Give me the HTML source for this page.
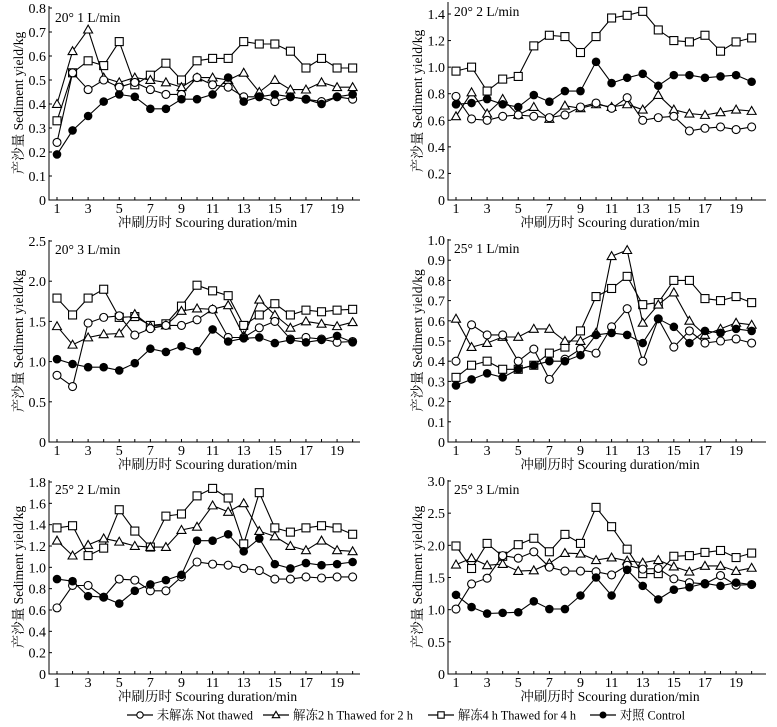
<!DOCTYPE html>
<html><head><meta charset="utf-8">
<style>
html,body{margin:0;padding:0;background:#fff;}
svg{display:block;font-family:"Liberation Serif","Noto Serif CJK SC",serif;}
</style></head>
<body>
<svg id="chart" width="777" height="727" viewBox="0 0 777 727" xmlns="http://www.w3.org/2000/svg"></svg>
<script>
const xCategories = [1,2,3,4,5,6,7,8,9,10,11,12,13,14,15,16,17,18,19,20];
const xTickLabels = [1,3,5,7,9,11,13,15,17,19];
const seriesNames = ["未解冻 Not thawed","解冻2 h Thawed for 2 h","解冻4 h Thawed for 4 h","对照 Control"];
const panelTitles = ["20° 1 L/min","20°  2 L/min","20°  3 L/min","25°  1 L/min","25°  2 L/min","25°  3 L/min"];
const yTickMax = [0.8,1.4,2.5,1.0,1.8,3.0];
const yTickStep = [0.1,0.2,0.5,0.1,0.2,0.5];
// panel 1: 20° 1 L/min
const p1NotThawed = [0.24,0.53,0.46,0.50,0.47,0.49,0.46,0.44,0.44,0.51,0.48,0.47,0.43,0.43,0.41,0.43,0.42,0.41,0.43,0.42];
const p1Thawed2h = [0.40,0.62,0.71,0.51,0.49,0.51,0.50,0.49,0.47,0.51,0.51,0.50,0.53,0.45,0.50,0.46,0.46,0.49,0.47,0.47];
const p1Thawed4h = [0.33,0.53,0.58,0.56,0.66,0.48,0.52,0.57,0.50,0.58,0.59,0.59,0.66,0.65,0.65,0.62,0.55,0.59,0.55,0.55];
const p1Control = [0.19,0.29,0.35,0.41,0.44,0.43,0.38,0.38,0.42,0.42,0.44,0.51,0.41,0.43,0.44,0.43,0.42,0.40,0.43,0.44];
// panel 2: 20° 2 L/min
const p2NotThawed = [0.78,0.61,0.60,0.63,0.64,0.63,0.62,0.64,0.70,0.73,0.69,0.77,0.60,0.62,0.63,0.52,0.54,0.55,0.53,0.55];
const p2Thawed2h = [0.63,0.81,0.65,0.76,0.64,0.70,0.61,0.71,0.69,0.72,0.70,0.72,0.68,0.79,0.68,0.65,0.64,0.66,0.68,0.67];
const p2Thawed4h = [0.97,1.00,0.82,0.91,0.93,1.16,1.24,1.23,1.11,1.23,1.37,1.39,1.42,1.28,1.20,1.19,1.24,1.12,1.19,1.22];
const p2Control = [0.72,0.73,0.76,0.72,0.70,0.79,0.74,0.82,0.82,1.04,0.88,0.92,0.95,0.86,0.94,0.94,0.92,0.93,0.94,0.89];
// panel 3: 20° 3 L/min
const p3NotThawed = [0.83,0.69,1.48,1.55,1.57,1.33,1.41,1.45,1.45,1.52,1.65,1.30,1.30,1.42,1.50,1.28,1.30,1.28,1.24,1.25];
const p3Thawed2h = [1.44,1.21,1.30,1.34,1.35,1.59,1.44,1.45,1.63,1.66,1.65,1.70,1.32,1.77,1.58,1.42,1.50,1.47,1.44,1.49];
const p3Thawed4h = [1.79,1.58,1.79,1.90,1.55,1.56,1.45,1.47,1.69,1.95,1.88,1.82,1.45,1.58,1.72,1.58,1.64,1.62,1.64,1.65];
const p3Control = [1.03,0.97,0.93,0.93,0.89,0.98,1.16,1.12,1.19,1.13,1.40,1.25,1.29,1.30,1.23,1.27,1.24,1.27,1.32,1.24];
// panel 4: 25° 1 L/min
const p4NotThawed = [0.40,0.58,0.53,0.53,0.40,0.46,0.31,0.41,0.46,0.44,0.57,0.66,0.40,0.61,0.47,0.55,0.49,0.50,0.51,0.49];
const p4Thawed2h = [0.61,0.47,0.49,0.52,0.52,0.56,0.56,0.50,0.50,0.54,0.92,0.95,0.59,0.68,0.74,0.60,0.53,0.56,0.59,0.58];
const p4Thawed4h = [0.32,0.38,0.40,0.36,0.36,0.38,0.44,0.47,0.55,0.72,0.76,0.82,0.68,0.69,0.80,0.80,0.71,0.70,0.72,0.69];
const p4Control = [0.28,0.31,0.34,0.32,0.36,0.38,0.40,0.40,0.43,0.53,0.54,0.53,0.49,0.61,0.57,0.49,0.55,0.54,0.56,0.55];
// panel 5: 25° 2 L/min
const p5NotThawed = [0.62,0.83,0.83,0.72,0.89,0.88,0.78,0.78,0.91,1.05,1.03,1.02,0.99,0.97,0.89,0.89,0.91,0.90,0.91,0.91];
const p5Thawed2h = [1.25,1.11,1.21,1.27,1.24,1.20,1.19,1.19,1.35,1.38,1.58,1.52,1.60,1.34,1.29,1.20,1.16,1.25,1.16,1.15];
const p5Thawed4h = [1.37,1.39,1.11,1.18,1.54,1.34,1.19,1.48,1.50,1.67,1.74,1.65,1.22,1.70,1.37,1.33,1.37,1.39,1.37,1.31];
const p5Control = [0.89,0.87,0.73,0.72,0.66,0.78,0.84,0.88,0.93,1.25,1.25,1.31,1.15,1.27,1.03,0.99,1.04,1.02,1.03,1.05];
// panel 6: 25° 3 L/min
const p6NotThawed = [1.01,1.40,1.49,1.84,1.80,1.90,1.66,1.60,1.60,1.59,1.54,1.69,1.63,1.64,1.48,1.42,1.40,1.53,1.38,1.39];
const p6Thawed2h = [1.70,1.80,1.69,1.71,1.60,1.61,1.72,1.88,1.87,1.77,1.81,1.76,1.73,1.77,1.67,1.59,1.68,1.68,1.60,1.65];
const p6Thawed4h = [1.99,1.64,2.03,1.83,2.01,2.11,1.90,2.17,2.03,2.59,2.29,1.94,1.56,1.56,1.83,1.84,1.89,1.92,1.81,1.88];
const p6Control = [1.23,1.04,0.94,0.95,0.96,1.13,1.01,1.01,1.22,1.50,1.22,1.62,1.37,1.16,1.31,1.35,1.41,1.37,1.42,1.39];

const panelSeries = [
  [p1NotThawed,p1Thawed2h,p1Thawed4h,p1Control],
  [p2NotThawed,p2Thawed2h,p2Thawed4h,p2Control],
  [p3NotThawed,p3Thawed2h,p3Thawed4h,p3Control],
  [p4NotThawed,p4Thawed2h,p4Thawed4h,p4Control],
  [p5NotThawed,p5Thawed2h,p5Thawed4h,p5Control],
  [p6NotThawed,p6Thawed2h,p6Thawed4h,p6Control]
];
const layout = [
  {ax:49, x1:57, y0:200, yTop:8, axisTop:6, right:360, titleX:18},
  {ax:448,x1:456,y0:200, yTop:14, axisTop:2, right:766, titleX:417},
  {ax:49, x1:57, y0:442, yTop:241, axisTop:240, right:360, titleX:18},
  {ax:448,x1:456,y0:442, yTop:240, axisTop:239, right:766, titleX:417},
  {ax:49, x1:57, y0:674, yTop:482, axisTop:480, right:360, titleX:18},
  {ax:448,x1:456,y0:674, yTop:481, axisTop:480, right:766, titleX:417}
];
const XSTEP = 15.56;
const NS = "http://www.w3.org/2000/svg";
const svg = document.getElementById("chart");
function mk(tag, attrs, parent){
  const e = document.createElementNS(NS, tag);
  for (const k in attrs) e.setAttribute(k, String(attrs[k]));
  (parent||svg).appendChild(e);
  return e;
}
function marker(g, kind, x, y, r){
  let m;
  if (kind===0){ m = mk("circle",{cx:x,cy:y,r:r,fill:"#fff",stroke:"#000","stroke-width":1.1},g); }
  else if (kind===1){ m = mk("polygon",{points:`${x},${y-r-0.5} ${x-r-0.5},${y+r*0.85} ${x+r+0.5},${y+r*0.85}`,fill:"#fff",stroke:"#000","stroke-width":1.1},g); }
  else if (kind===2){ m = mk("rect",{x:x-r,y:y-r,width:2*r,height:2*r,fill:"#fff",stroke:"#000","stroke-width":1.1},g); }
  else { m = mk("circle",{cx:x,cy:y,r:r+0.3,fill:"#000"},g); }
  return m;
}
const seriesKeys = ["not-thawed","thawed-2h","thawed-4h","control"];
for (let p=0;p<6;p++){
  const L = layout[p];
  const vmax = yTickMax[p];
  const step = yTickStep[p];
  const xScale = c => L.x1 + (c-1)*XSTEP;
  const yScale = v => L.y0 - v*(L.y0-L.yTop)/vmax;
  const g = mk("g",{});
  
  
  const axes = mk("path",{d:`M${L.ax},${L.axisTop} V${L.y0} H${L.right}`,fill:"none",stroke:"#000","stroke-width":1},g);
  
  
  const nT = Math.round(vmax/step);
  for (let i=0;i<=nT;i++){
    const val = i*step;
    const ty = yScale(val);
    mk("line",{x1:L.ax,y1:ty,x2:L.ax+3,y2:ty,stroke:"#000","stroke-width":1},g);
    const txt = i===0 ? "0" : val.toFixed(1);
    const lab = mk("text",{x:L.ax-3,y:ty+5,"text-anchor":"end","font-size":14},g);
    
    
    lab.textContent = txt;
  }
  xCategories.forEach(c=>{
    const x = xScale(c);
    mk("line",{x1:x,y1:L.y0,x2:x,y2:L.y0-3,stroke:"#000","stroke-width":1},g);
  });
  xTickLabels.forEach(c=>{
    const t = mk("text",{x:xScale(c),y:L.y0+13,"text-anchor":"middle","font-size":14},g);
    
    
    t.textContent = c;
  });
  const xt = mk("text",{x:(L.ax+L.right)/2+3,y:L.y0+27,"text-anchor":"middle","font-size":13.5},g);
  
  
  xt.textContent = "冲刷历时 Scouring duration/min";
  const cy = (L.axisTop+L.y0)/2;
  const yt = mk("text",{x:L.titleX,y:cy+5,"text-anchor":"middle","font-size":13.5,transform:`rotate(-90 ${L.titleX} ${cy})`},g);
  
  
  yt.textContent = "产沙量 Sediment yield/kg";
  const pt = mk("text",{x:L.ax+6,y:L.axisTop+14 + (p===0?2:0),"font-size":13.5},g);
  
  
  pt.textContent = panelTitles[p];
  [2,1,0,3].forEach(s=>{
    const vals = panelSeries[p][s];
    const sg = mk("g",{},g);
    
    
    const d = vals.map((v,i)=>(i?"L":"M")+xScale(xCategories[i]).toFixed(1)+","+yScale(v).toFixed(1)).join(" ");
    const ln = mk("path",{d:d,fill:"none",stroke:"#000","stroke-width":1.1},sg);
    
    
    vals.forEach((v,i)=>{
      const m = marker(sg, s, xScale(xCategories[i]), yScale(v), 4);
      
      
    });
  });
}
const legendX = [127,263,428,590];
const legendTextW = [96,120,118,65];
const lg = mk("g",{});


seriesNames.forEach((n,s)=>{
  const eg = mk("g",{},lg);
  
  
  const x = legendX[s], y = 715;
  mk("line",{x1:x,y1:y,x2:x+26,y2:y,stroke:"#000","stroke-width":1.2},eg);
  marker(eg, s, x+13, y, 3.2);
  const t = mk("text",{x:x+30,y:y+4.5,"font-size":13,textLength:legendTextW[s],lengthAdjust:"spacingAndGlyphs"},eg);
  t.textContent = n;
});
</script>
</body></html>
